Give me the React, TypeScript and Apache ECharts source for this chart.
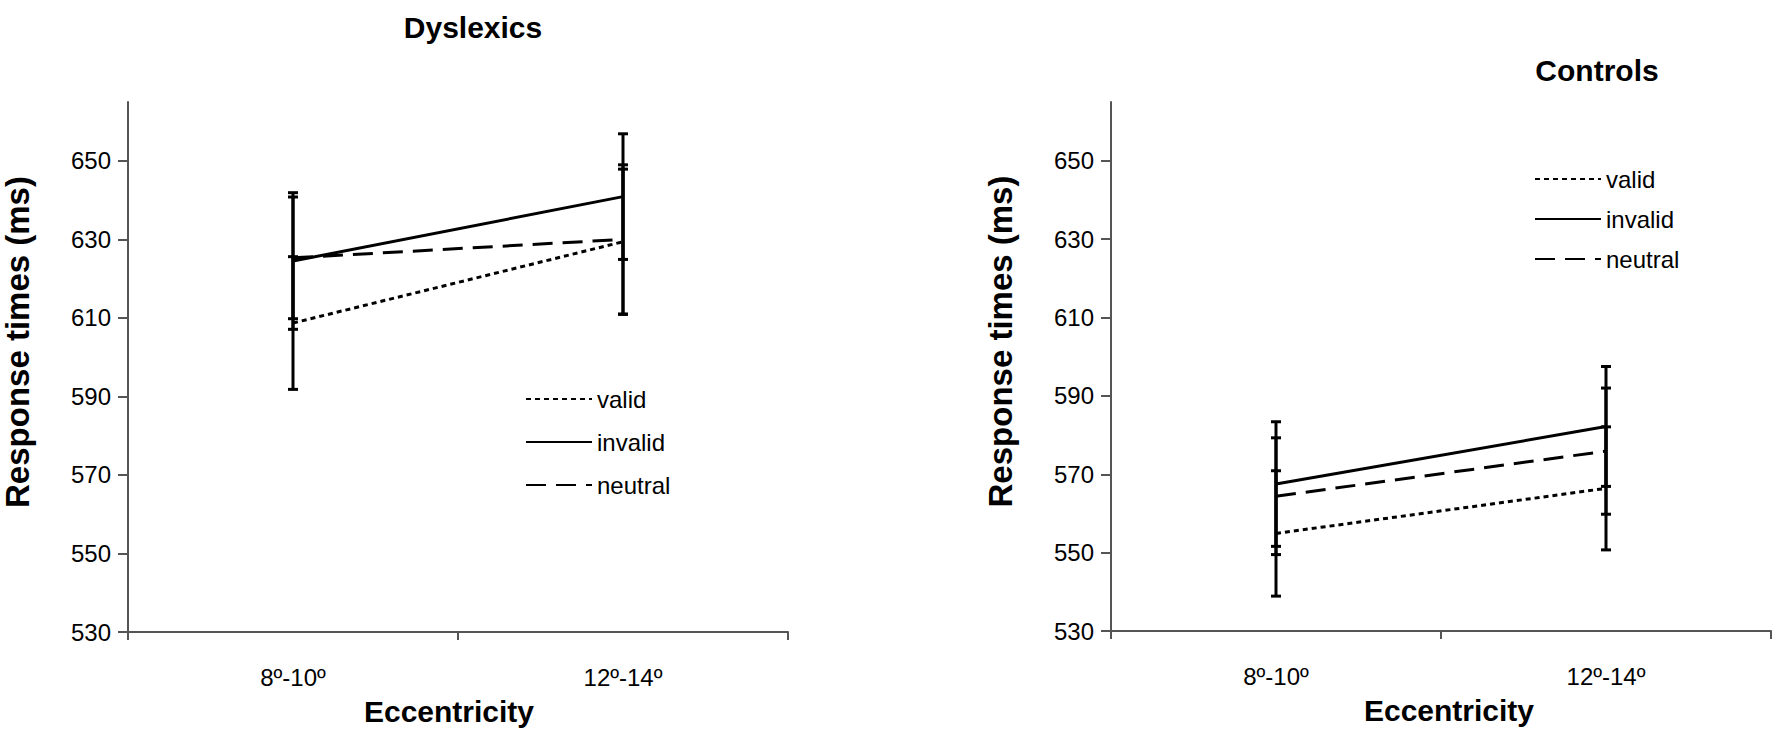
import React, { useEffect, useRef } from "react";
import * as echarts from "echarts";

const categories = ["8º-10º", "12º-14º"];
const yTicks = [530, 550, 570, 590, 610, 630, 650];
const seriesNames = ["valid", "invalid", "neutral"];

// Dyslexics: means and standard errors
const dysValid = [608.7, 629.4];
const dysValidErr = [16.9, 18.5];
const dysInvalid = [624.5, 640.9];
const dysInvalidErr = [17.4, 16.0];
const dysNeutral = [625.3, 630.0];
const dysNeutralErr = [15.5, 19.0];

// Controls: means and standard errors
const ctlValid = [554.9, 566.4];
const ctlValidErr = [16.0, 15.7];
const ctlInvalid = [567.5, 582.2];
const ctlInvalidErr = [15.9, 15.3];
const ctlNeutral = [564.4, 575.9];
const ctlNeutralErr = [14.9, 16.1];

const FONT = "'Liberation Sans', Arial, Helvetica, sans-serif";

const dashStyles: Record<string, any> = {
  valid: [5, 4],
  invalid: "solid",
  neutral: [20, 10],
};

function errData(means: number[], errs: number[]) {
  return means.map((m, i) => [i, m - errs[i], m + errs[i]]);
}

function errorSeries(name: string, idx: number, means: number[], errs: number[]) {
  return {
    type: "custom",
    name,
    xAxisIndex: idx,
    yAxisIndex: idx,
    data: errData(means, errs),
    encode: { x: 0, y: [1, 2] },
    z: 3,
    renderItem: (params: any, api: any) => {
      const x = api.value(0);
      const lo = api.value(1);
      const hi = api.value(2);
      const pHi = api.coord([x, hi]);
      const pLo = api.coord([x, lo]);
      const w = 5;
      const st = { stroke: "#000", lineWidth: 3 };
      return {
        type: "group",
        children: [
          { type: "line", shape: { x1: pHi[0], y1: pHi[1], x2: pLo[0], y2: pLo[1] }, style: st },
          { type: "line", shape: { x1: pHi[0] - w, y1: pHi[1], x2: pHi[0] + w, y2: pHi[1] }, style: st },
          { type: "line", shape: { x1: pLo[0] - w, y1: pLo[1], x2: pLo[0] + w, y2: pLo[1] }, style: st },
        ],
      };
    },
  };
}

function lineSeries(name: string, idx: number, data: number[]) {
  return {
    type: "line",
    name,
    xAxisIndex: idx,
    yAxisIndex: idx,
    data,
    symbol: "none",
    showSymbol: false,
    z: 4,
    lineStyle: { color: "#000", width: 3, type: dashStyles[name] },
    itemStyle: { color: "#000" },
  };
}

function makeXAxis(idx: number, namePadding: number[]) {
  return {
    type: "category",
    gridIndex: idx,
    data: categories,
    boundaryGap: true,
    axisLine: { lineStyle: { color: "#555", width: 2 } },
    axisTick: { show: true, alignWithLabel: false, length: 8, lineStyle: { color: "#555", width: 2 } },
    axisLabel: { color: "#000", fontSize: 24, fontFamily: FONT, margin: 33 },
    name: "Eccentricity",
    nameLocation: "middle",
    nameGap: 64,
    nameTextStyle: {
      color: "#000",
      fontSize: 30,
      fontWeight: "bold",
      fontFamily: FONT,
      padding: namePadding,
    },
  };
}

function makeYAxis(idx: number) {
  return {
    type: "value",
    gridIndex: idx,
    min: 530,
    max: 665,
    axisLine: { show: true, lineStyle: { color: "#555", width: 2 } },
    axisTick: { show: true, length: 10, customValues: yTicks, lineStyle: { color: "#555", width: 2 } },
    axisLabel: { color: "#000", fontSize: 24, fontFamily: FONT, margin: 17, customValues: yTicks },
    splitLine: { show: false },
    name: "Response times (ms)",
    nameLocation: "middle",
    nameGap: 94,
    nameTextStyle: {
      color: "#000",
      fontSize: 33,
      fontWeight: "bold",
      fontFamily: FONT,
      padding: [0, 0, 0, 50],
    },
  };
}

function makeLegend(left: number, top: number, gap: number) {
  return {
    show: true,
    orient: "vertical",
    left,
    top,
    data: seriesNames,
    itemWidth: 66,
    itemHeight: 14,
    itemGap: gap,
    selectedMode: false,
    itemStyle: { color: "rgba(0,0,0,0)", borderWidth: 0, opacity: 0 },
    textStyle: { color: "#000", fontSize: 24, fontFamily: FONT },
  };
}

export default function App() {
  const ref = useRef<HTMLDivElement>(null);
  useEffect(() => {
    if (!ref.current) return;
    const chart = echarts.init(ref.current, undefined, { renderer: "svg" });
    const option = {
      animation: false,
      backgroundColor: "#fff",
      graphic: [
        {
          type: "text",
          x: 473,
          y: 27,
          style: {
            text: "Dyslexics",
            fill: "#000",
            font: `bold 30px ${FONT}`,
            textAlign: "center",
            textVerticalAlign: "middle",
          },
        },
        {
          type: "text",
          x: 1597,
          y: 70,
          style: {
            text: "Controls",
            fill: "#000",
            font: `bold 30px ${FONT}`,
            textAlign: "center",
            textVerticalAlign: "middle",
          },
        },
      ],
      grid: [
        { left: 128, top: 102, width: 660, height: 530 },
        { left: 1111, top: 102, width: 660, height: 529 },
      ],
      xAxis: [makeXAxis(0, [0, 18, 0, 0]), makeXAxis(1, [0, 0, 0, 16])],
      yAxis: [makeYAxis(0), makeYAxis(1)],
      legend: [makeLegend(520, 382, 19), makeLegend(1529, 162, 16)],
      series: [
        lineSeries("valid", 0, dysValid),
        lineSeries("invalid", 0, dysInvalid),
        lineSeries("neutral", 0, dysNeutral),
        lineSeries("valid", 1, ctlValid),
        lineSeries("invalid", 1, ctlInvalid),
        lineSeries("neutral", 1, ctlNeutral),
        errorSeries("err-valid-d", 0, dysValid, dysValidErr),
        errorSeries("err-invalid-d", 0, dysInvalid, dysInvalidErr),
        errorSeries("err-neutral-d", 0, dysNeutral, dysNeutralErr),
        errorSeries("err-valid-c", 1, ctlValid, ctlValidErr),
        errorSeries("err-invalid-c", 1, ctlInvalid, ctlInvalidErr),
        errorSeries("err-neutral-c", 1, ctlNeutral, ctlNeutralErr),
      ],
    };
    chart.setOption(option as any);
    return () => chart.dispose();
  }, []);
  return (
    <div
      ref={ref}
      style={{ position: "absolute", left: 0, top: 0, width: 1772, height: 734, background: "#fff" }}
    />
  );
}
